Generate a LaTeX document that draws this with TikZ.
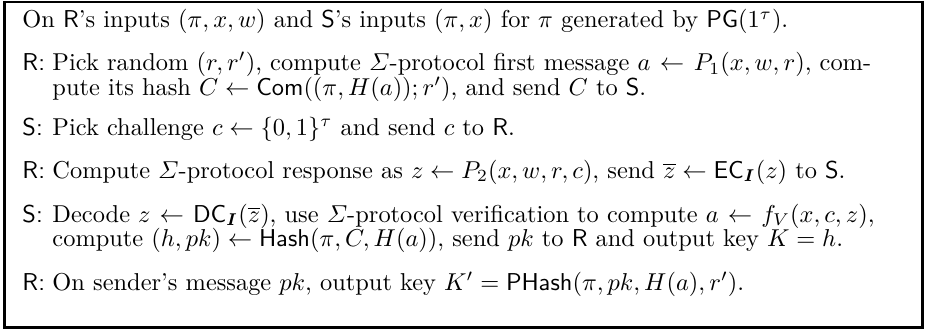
\documentclass[tikz,border=0pt]{standalone}
\usepackage{amsmath}
\usetikzlibrary{positioning}

\begin{document}
\begin{tikzpicture}[
            x=0.4098pt, y=0.4098pt,
            frame/.style={draw=black, line width=1.2pt},
            intro/.style={anchor=base west, inner sep=0pt, text width=355pt,
                font=\fontsize{10}{10.16}\selectfont},
            who/.style={anchor=base west, inner sep=0pt,
                font=\fontsize{10}{10.16}\selectfont\sffamily},
            stepbox/.style={anchor=base west, inner sep=0pt, text width=343.4pt,
                font=\fontsize{10}{10.16}\selectfont},
        ]
            \def\lft{22};
            \def\txt{52};
            % page size and frame
            \useasboundingbox (0,0) rectangle (925,-329);
            \draw[frame] (4.5,-2) rectangle (922.5,-327.5);

            % setting
            \node[intro] (start) at (\lft,-27.9)
                {On \textsf{R}'s inputs $(\pi,x,w)$ and \textsf{S}'s inputs $(\pi,x)$ for $\pi$ generated by $\mathsf{PG}(1^\tau)$.};

            % the five moves
            \node[stepbox] (R-1) at (\txt,-70.8)
                {Pick random $(r,r')$, compute $\varSigma$-protocol first message $a\leftarrow P_1(x,w,r)$, compute its hash $C\leftarrow\mathsf{Com}((\pi,H(a));r')$, and send $C$ to \textsf{S}.};
            \node[stepbox] (S-1) at (\txt,-135.4)
                {Pick challenge $c\leftarrow\{0,1\}^\tau$ and send $c$ to \textsf{R}.};
            \node[stepbox] (R-2) at (\txt,-178.3)
                {Compute $\varSigma$-protocol response as $z\leftarrow P_2(x,w,r,c)$, send $\overline{z}\leftarrow\mathsf{EC}_{\boldsymbol{I}}(z)$ to \textsf{S}.};
            \node[stepbox] (S-2) at (\txt,-222.1)
                {Decode $z\leftarrow\mathsf{DC}_{\boldsymbol{I}}(\overline{z})$, use $\varSigma$-protocol verification to compute $a\leftarrow f_V(x,c,z)$, compute $(h,pk)\leftarrow\mathsf{Hash}(\pi,C,H(a))$, send $pk$ to \textsf{R} and output key $K=h$.};
            \node[stepbox] (R-3) at (\txt,-290)
                {On sender's message $pk$, output key $K'=\mathsf{PHash}(\pi,pk,H(a),r')$.};

            % who moves
            \foreach \step/\party in {R-1/R, S-1/S, R-2/R, S-2/S, R-3/R}
                \node[who] (who-\step) at (\lft,0 |- \step.base) {\party:};
        \end{tikzpicture}
\end{document}
